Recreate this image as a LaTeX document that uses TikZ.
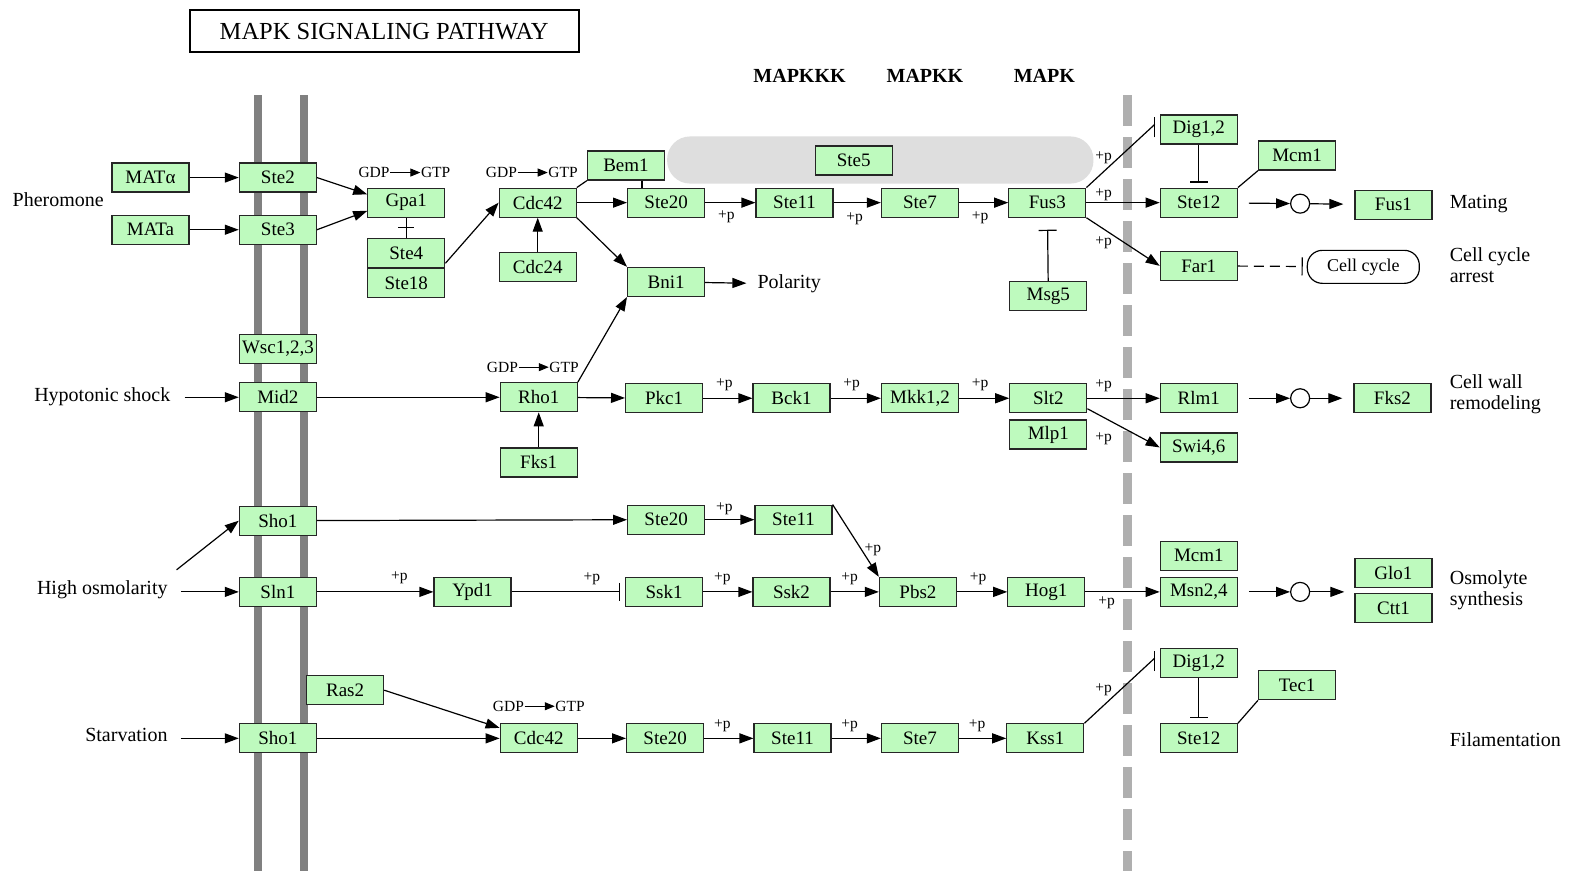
\documentclass[tikz,border=0pt]{standalone}
\usepackage{fontspec}
\setmainfont{Liberation Serif}
\usetikzlibrary{positioning,arrows.meta}
\definecolor{genegreen}{RGB}{190,250,190}
\definecolor{membgray}{RGB}{128,128,128}
\definecolor{nucgray}{RGB}{175,175,175}
\definecolor{scafgray}{RGB}{222,222,222}
\tikzset{
  gene/.style={draw=black!85, fill=genegreen, line width=1.2pt, minimum width=77pt, minimum height=29pt, inner sep=0pt, font=\fontsize{19}{19}\selectfont},
  lbl/.style={inner sep=1pt, align=left, font=\fontsize{20}{21}\selectfont},
  small/.style={inner sep=0.5pt, font=\fontsize{15.5}{15.5}\selectfont},
  head/.style={inner sep=1pt, font=\bfseries\fontsize{20}{20}\selectfont},
  act/.style={line width=1.2pt, -{Triangle[length=14pt,width=10pt]}},
  inh/.style={line width=1.2pt, -{Bar[width=18pt]}},
  link/.style={line width=1.2pt},
  dot/.style={circle, draw, fill=white, line width=1.2pt, minimum size=19pt, inner sep=0pt}
}
\begin{document}
\begin{tikzpicture}[x=1.0032pt,y=-1.0032pt]
\useasboundingbox (0,0) rectangle (1568,868);
\fill[white] (0,0) rectangle (1568,868);

\draw[membgray, line width=8pt] (257,95) -- (257,868);
\draw[membgray, line width=8pt] (303,95) -- (303,868);
\draw[nucgray, line width=9pt, dash pattern=on 31pt off 11pt] (1124,95) -- (1124,868);
\fill[scafgray, rounded corners=23pt] (665,136) rectangle (1090,183);

\node[draw, line width=1.8pt, minimum width=389pt, minimum height=42pt, font=\fontsize{24.5}{24.5}\selectfont] (title) at (383,31) {MAPK SIGNALING PATHWAY};
\node[head] (mapkkk) at (797,76) {MAPKKK};
\node[head] (mapkk) at (922,76) {MAPKK};
\node[head] (mapk) at (1041,76) {MAPK};

% pheromone
\node[lbl] (pher) at (58,199) {Pheromone};
\node[gene] (matA) at (150,177) {MATα};
\node[gene] (mata) at (150,229) {MATa};
\node[gene] (ste2) at (277,177) {Ste2};
\node[gene] (ste3) at (277,229) {Ste3};
\node[gene] (gpa1) at (405,202) {Gpa1};
\node[gene] (ste4) at (405,252) {Ste4};
\node[gene, below=0pt of ste4] (ste18) {Ste18};
\node[gene] (cdc42a) at (536,202) {Cdc42};
\node[gene] (bem1) at (624,165) {Bem1};
\node[gene] (cdc24) at (536,266) {Cdc24};
\node[gene] (ste20a) at (664,202) {Ste20};
\node[gene] (bni1) at (664,281) {Bni1};
\node[lbl, anchor=west] (polar) at (754,283) {Polarity};
\node[gene] (ste11a) at (792,202) {Ste11};
\node[gene] (ste7a) at (917,202) {Ste7};
\node[gene] (fus3) at (1044,202) {Fus3};
\node[gene] (ste5) at (851,160) {Ste5};
\node[gene] (msg5) at (1045,295) {Msg5};
\node[gene] (dig12a) at (1195,129) {Dig1,2};
\node[gene] (ste12a) at (1195,202) {Ste12};
\node[gene] (mcm1a) at (1293,155) {Mcm1};
\node[gene] (far1) at (1195,265) {Far1};
\node[dot] (c1) at (1296,203) {};
\node[gene] (fus1) at (1389,204) {Fus1};
\node[draw, line width=1.2pt, rounded corners=15pt, minimum width=112pt, minimum height=33pt, inner sep=0pt, font=\fontsize{18}{18}\selectfont] (cellcyc) at (1359,266) {Cell cycle};
\node[lbl, anchor=west] (mating) at (1444,203) {Mating};
\node[lbl, anchor=west] (arrest) at (1444,264) {Cell cycle\\arrest};

% hypotonic shock
\node[lbl] (hypo) at (102,395) {Hypotonic shock};
\node[gene] (wsc) at (277,348) {Wsc1,2,3};
\node[gene] (mid2) at (277,396) {Mid2};
\node[gene] (rho1) at (537,396) {Rho1};
\node[gene] (fks1) at (537,461) {Fks1};
\node[gene] (pkc1) at (662,397) {Pkc1};
\node[gene] (bck1) at (789,397) {Bck1};
\node[gene] (mkk12) at (917,397) {Mkk1,2};
\node[gene] (slt2) at (1045,397) {Slt2};
\node[gene, below=6pt of slt2] (mlp1) {Mlp1};
\node[gene] (rlm1) at (1195,397) {Rlm1};
\node[gene] (swi46) at (1195,446) {Swi4,6};
\node[dot] (c2) at (1296,397) {};
\node[gene] (fks2) at (1388,397) {Fks2};
\node[lbl, anchor=west] (wall) at (1444,393) {Cell wall\\remodeling};

% high osmolarity
\node[lbl] (highosm) at (102,588) {High osmolarity};
\node[gene] (sho1a) at (277,519) {Sho1};
\node[gene] (sln1) at (277,590) {Sln1};
\node[gene] (ypd1) at (471,590) {Ypd1};
\node[gene] (ste20b) at (664,518) {Ste20};
\node[gene] (ste11b) at (791,518) {Ste11};
\node[gene] (ssk1) at (662,590) {Ssk1};
\node[gene] (ssk2) at (789,590) {Ssk2};
\node[gene] (pbs2) at (915,590) {Pbs2};
\node[gene] (hog1) at (1043,590) {Hog1};
\node[gene] (msn24) at (1195,590) {Msn2,4};
\node[gene, above=6pt of msn24] (mcm1b) {Mcm1};
\node[dot] (c3) at (1296,590) {};
\node[gene] (glo1) at (1389,571) {Glo1};
\node[gene, below=5pt of glo1] (ctt1) {Ctt1};
\node[lbl, anchor=west] (osmo) at (1444,588) {Osmolyte\\synthesis};

% starvation
\node[lbl] (starv) at (126,733) {Starvation};
\node[gene] (sho1b) at (277,736) {Sho1};
\node[gene] (ras2) at (344,688) {Ras2};
\node[gene] (cdc42b) at (537,736) {Cdc42};
\node[gene] (ste20c) at (663,736) {Ste20};
\node[gene] (ste11c) at (790,736) {Ste11};
\node[gene] (ste7c) at (917,736) {Ste7};
\node[gene] (kss1) at (1042,736) {Kss1};
\node[gene] (dig12b) at (1195,661) {Dig1,2};
\node[gene] (ste12b) at (1195,736) {Ste12};
\node[gene] (tec1) at (1293,683) {Tec1};
\node[lbl, anchor=west] (filam) at (1444,737) {Filamentation};

\foreach \n/\x/\y in {1/404/172, 2/531/172, 3/532/366, 4/538/704} {
  \node[small, anchor=east] (gdp\n) at (\x-15,\y) {GDP};
  \node[small, anchor=west] (gtp\n) at (\x+15,\y) {GTP};
  \draw[line width=1pt, -{Triangle[length=10pt,width=8pt]}] (gdp\n) -- (gtp\n);
}
\foreach \n/\x/\y in {1/724/216, 2/852/218, 3/977/217, 4/1100/157, 5/1100/194, 6/1100/242,
  7/722/384, 8/849/384, 9/977/384, 10/1100/385, 11/1100/437,
  12/722/507, 13/870/548, 14/398/576, 15/590/577, 16/720/577, 17/847/577, 18/975/577, 19/1103/601,
  20/720/723, 21/847/723, 22/974/723, 23/1100/688}
  \node[small] (p\n) at (\x,\y) {+p};

\draw[act] (matA) -- (ste2);
\draw[act] (mata) -- (ste3);
\draw[act] (ste2.east) -- (gpa1.168);
\draw[act] (ste3.east) -- (gpa1.192);
\draw[link] (gpa1) -- (ste4);
\path (gpa1.south) -- (ste4.north) coordinate[midway] (gx);
\draw[link] ([xshift=-8pt]gx) -- ([xshift=8pt]gx);
\draw[act] (ste4.-15) -- (cdc42a.west);
\draw[act] (cdc24) -- (cdc42a);
\draw[act] (cdc42a) -- (ste20a);
\draw[act] (cdc42a.south east) -- (bni1.north west);
\draw[link] (bem1.south west) -- (cdc42a.north east);
\draw[link] ([xshift=16pt]bem1.south) -- ([xshift=16pt]bem1.south |- ste20a.north);
\draw[act, shorten >=10pt] (bni1) -- (polar);
\draw[act] (ste20a) -- (ste11a);
\draw[act] (ste11a) -- (ste7a);
\draw[act] (ste7a) -- (fus3);
\coordinate (bar1) at ([xshift=-5pt]dig12a.west);
\draw[link] (fus3.north east) -- ([yshift=5pt]bar1);
\draw[link] ([yshift=-8pt]bar1) -- ([yshift=12pt]bar1);
\draw[act] (fus3) -- (ste12a);
\draw[act] (fus3.south east) -- (far1.west);
\draw[inh, shorten >=12pt] (msg5) -- (fus3);
\draw[inh, shorten >=5pt] (dig12a) -- (ste12a);
\draw[link] (mcm1a.south west) -- (ste12a.north east);
\draw[act, shorten <=11pt] (ste12a) -- (c1);
\draw[act, shorten >=11pt] (c1) -- (fus1);
\draw[inh, dash pattern=on 10pt off 6pt, shorten >=4pt] (far1) -- (cellcyc);

\draw[act, shorten <=13pt] (hypo.east |- mid2) -- (mid2);
\draw[act] (mid2) -- (rho1);
\draw[act] (fks1) -- (rho1);
\draw[act] (rho1.north east) -- (bni1.south west);
\draw[act] (rho1) -- (pkc1);
\draw[act] (pkc1) -- (bck1);
\draw[act] (bck1) -- (mkk12);
\draw[act] (mkk12) -- (slt2);
\draw[act] (slt2) -- (rlm1);
\draw[act] (slt2.-15) -- (swi46.west);
\draw[act, shorten <=11pt] (rlm1) -- (c2);
\draw[act, shorten >=11pt] (c2) -- (fks2);

\coordinate (hos) at (176,568);
\draw[act] (hos) -- (sho1a.west);
\draw[act, shorten <=12pt] (highosm.east |- sln1) -- (sln1);
\draw[act] (sho1a) -- (ste20b);
\draw[act] (ste20b) -- (ste11b);
\draw[act] (ste11b.north east) -- (pbs2.north west);
\draw[act] (sln1) -- (ypd1);
\draw[inh, shorten >=5pt] (ypd1) -- (ssk1);
\draw[act] (ssk1) -- (ssk2);
\draw[act] (ssk2) -- (pbs2);
\draw[act] (pbs2) -- (hog1);
\draw[act] (hog1) -- (msn24);
\draw[act, shorten <=11pt] (msn24) -- (c3);
\draw[act, shorten >=10pt] (c3) -- (c3 -| glo1.west);

\draw[act, shorten <=12pt] (starv.east |- sho1b) -- (sho1b);
\draw[act] (sho1b) -- (cdc42b);
\draw[act] (ras2.east) -- (cdc42b.165);
\draw[act] (cdc42b) -- (ste20c);
\draw[act] (ste20c) -- (ste11c);
\draw[act] (ste11c) -- (ste7c);
\draw[act] (ste7c) -- (kss1);
\coordinate (bar2) at ([xshift=-5pt]dig12b.west);
\draw[link] (kss1.north east) -- ([yshift=5pt]bar2);
\draw[link] ([yshift=-8pt]bar2) -- ([yshift=12pt]bar2);
\draw[inh, shorten >=5pt] (dig12b) -- (ste12b);
\draw[link] (tec1.south west) -- (ste12b.north east);
\end{tikzpicture}
\end{document}
